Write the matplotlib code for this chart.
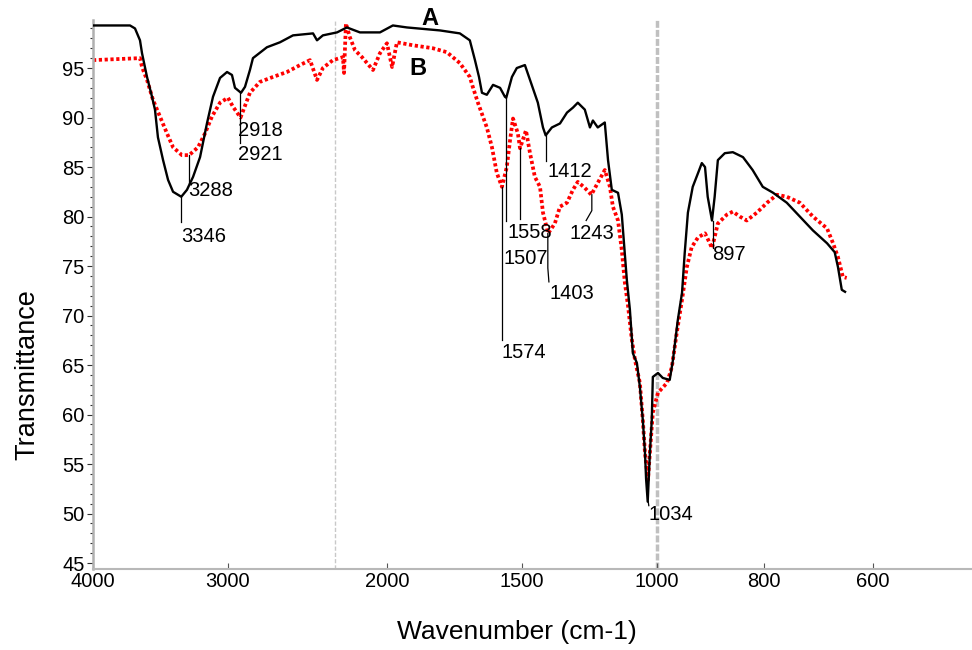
import numpy as np
import matplotlib
matplotlib.use("Agg")
import matplotlib.pyplot as plt

plt.rcParams['font.family'] = ['Liberation Sans', 'DejaVu Sans']

# spectrum A (black)
wn_a = [4000, 3726, 3689, 3652, 3637, 3600, 3563, 3541, 3519, 3481, 3444, 3407, 3346,
        3304, 3259, 3207, 3156, 3111, 3059, 3007, 2975, 2956, 2918, 2893, 2862, 2843,
        2755, 2673, 2591, 2465, 2440, 2403, 2314, 2252, 2170, 2044, 1978, 1926, 1804,
        1730, 1693, 1674, 1659, 1648, 1630, 1607, 1581, 1563, 1558, 1537, 1519, 1489,
        1470, 1441, 1422, 1412, 1389, 1359, 1333, 1311, 1293, 1267, 1248, 1237, 1219,
        1193, 1181, 1167, 1144, 1130, 1119, 1111, 1100, 1089, 1074, 1063, 1052, 1044,
        1040, 1034, 1026, 1019, 1015, 998, 989, 976, 970, 961, 953, 948, 942, 933, 923,
        916, 910, 905, 897, 892, 886, 873, 858, 839, 821, 802, 783, 758, 734, 710, 684,
        670, 664, 657, 651]
t_a = [99.3, 99.3, 99.0, 97.8, 96.5, 94.1, 92.1, 90.8, 88.0, 85.7, 83.7, 82.5, 82.0,
       82.7, 84.0, 86.0, 89.4, 92.1, 94.0, 94.6, 94.3, 93.0, 92.5, 93.1, 94.8, 96.0,
       97.1, 97.6, 98.3, 98.5, 97.8, 98.3, 98.6, 99.1, 98.6, 98.6, 99.3, 99.1, 98.8,
       98.5, 97.8, 95.8, 94.1, 92.5, 92.3, 93.3, 93.0, 92.1, 92.0, 94.1, 95.0, 95.3,
       93.8, 91.5, 89.0, 88.2, 89.0, 89.4, 90.5, 91.0, 91.5, 90.8, 89.0, 89.7, 89.0,
       89.5, 85.7, 82.7, 82.4, 80.2, 76.3, 73.5, 70.6, 66.2, 65.2, 62.8, 59.4, 56.1,
       53.5, 51.2, 56.1, 59.4, 63.8, 64.2, 63.7, 63.5, 65.5, 69.5, 72.3, 76.3, 80.4,
       83.0, 84.4, 85.4, 85.0, 82.0, 79.6, 82.0, 85.7, 86.4, 86.5, 86.0, 84.7, 83.0,
       82.4, 81.4, 80.0, 78.6, 77.3, 76.4, 74.9, 72.6, 72.4]

# spectrum B (red)
wn_b = [4000, 3652, 3637, 3600, 3556, 3504, 3452, 3407, 3341, 3288, 3222, 3170, 3119,
        3059, 3000, 2969, 2921, 2895, 2862, 2799, 2717, 2629, 2547, 2484, 2440, 2403,
        2340, 2277, 2270, 2258, 2233, 2201, 2157, 2088, 2044, 2000, 1981, 1963, 1904,
        1830, 1778, 1730, 1693, 1682, 1663, 1630, 1611, 1593, 1574, 1556, 1544, 1533,
        1515, 1507, 1485, 1470, 1452, 1433, 1422, 1403, 1378, 1359, 1333, 1311, 1293,
        1267, 1243, 1219, 1193, 1174, 1163, 1144, 1130, 1119, 1107, 1093, 1081, 1063,
        1052, 1044, 1033, 1026, 1015, 998, 981, 972, 963, 953, 944, 935, 923, 910, 901,
        897, 886, 869, 858, 845, 832, 813, 794, 776, 758, 734, 710, 684, 673, 664, 655,
        648]
t_b = [95.8, 96.0, 95.1, 93.8, 91.8, 90.1, 88.4, 87.0, 86.2, 86.2, 87.0, 88.4, 90.1,
       91.5, 92.0, 91.1, 90.0, 91.1, 92.5, 93.6, 94.1, 94.6, 95.3, 95.8, 93.8, 95.0,
       95.8, 96.1, 94.5, 99.5, 98.1, 96.8, 96.1, 94.8, 96.5, 97.5, 95.1, 97.6, 97.3,
       97.0, 96.6, 95.5, 94.1, 93.1, 91.5, 89.0, 87.0, 84.4, 83.0, 85.0, 87.7, 89.9,
       88.4, 86.9, 88.7, 86.4, 84.0, 83.0, 80.4, 78.3, 79.3, 81.0, 81.4, 82.7, 83.5,
       82.9, 82.2, 83.4, 84.7, 83.0, 81.0, 79.6, 76.6, 73.4, 71.0, 67.6, 65.5, 63.2,
       59.4, 56.1, 53.4, 56.1, 60.2, 62.2, 63.2, 64.8, 68.2, 71.6, 74.9, 76.9, 77.9,
       78.3, 77.3, 76.8, 79.3, 80.2, 80.5, 80.0, 79.6, 80.4, 81.4, 82.2, 82.0, 81.4,
       80.0, 78.8, 77.3, 75.9, 73.9, 73.8]

x_ticks = [4000, 3000, 2000, 1500, 1000, 800, 600]
y_ticks = [45, 50, 55, 60, 65, 70, 75, 80, 85, 90, 95]

# instrument-style wavenumber axis: piecewise linear between breakpoints
brk_wn = [0, 400, 600, 800, 1000, 1500, 2000, 3000, 4000, 5000]
brk_u = [-1200, -982, -873, -764, -657, -522, -387, -228, -93, 42]


def fwd(w):
    return np.interp(w, brk_wn, brk_u)


def inv(u):
    return np.interp(u, brk_u, brk_wn)


fig = plt.figure(figsize=(9.72, 6.5), dpi=100)
ax = fig.add_axes([0.0957, 0.1246, 0.9043, 0.8446])
ax.set_xscale('function', functions=(fwd, inv))
ax.set_xlim(4000, 418)
ax.set_ylim(44.4, 99.85)

ax.axvline(2327, color='#c8c8c8', lw=1.0, ls=(0, (3, 1.5)), zorder=1)
ax.axvline(1000, color='#c0c0c0', lw=2.5, ls=(0, (2, 0.6)), zorder=1)

ax.plot(wn_b, t_b, color='#ff0000', lw=2.7, ls=(0, (0.85, 0.7)), zorder=2)
ax.plot(wn_a, t_a, color='black', lw=1.7, zorder=3)

# peak labels with leader lines
fs = 14.5
def peak(x, y0, y1, label, tx, ty):
    ax.plot([x, x], [y0, y1], color='black', lw=0.9, zorder=4)
    ax.text(tx, ty, label, fontsize=fs, ha='left', va='center', zorder=5)

peak(3346, 82.0, 79.4, '3346', 3348, 78.0)
peak(3288, 86.2, 83.4, '3288', 3296, 82.6)
peak(2925, 92.5, 87.4, '2918', 2940, 88.7)
ax.text(2940, 86.3, '2921', fontsize=fs, ha='left', va='center')
peak(1574, 83.0, 67.5, '1574', 1574, 66.3)
peak(1558, 92.0, 79.6, '1558', 1553, 78.4)
ax.plot([1507, 1507], [86.9, 79.8], color='black', lw=0.9)
ax.text(1570, 75.8, '1507', fontsize=fs, ha='left', va='center')
peak(1412, 88.2, 85.6, '1412', 1404, 84.5)
ax.plot([1404, 1404, 1400], [78.3, 74.8, 73.4], color='black', lw=0.9)
ax.text(1398, 72.2, '1403', fontsize=fs, ha='left', va='center')
ax.plot([1241, 1241, 1262], [82.2, 80.6, 79.6], color='black', lw=0.9)
ax.text(1322, 78.3, '1243', fontsize=fs, ha='left', va='center')
ax.plot([1032, 1030], [51.2, 50.8], color='black', lw=0.9)
ax.text(1030, 49.9, '1034', fontsize=fs, ha='left', va='center')
ax.plot([895, 895], [79.6, 76.8], color='black', lw=0.9)
ax.text(897, 76.2, '897', fontsize=fs, ha='left', va='center')

ax.text(1841, 100.0, 'A', fontsize=17, fontweight='bold', ha='center', va='center', clip_on=False)
ax.text(1885, 95.0, 'B', fontsize=17, fontweight='bold', ha='center', va='center')

ax.set_xticks(x_ticks)
ax.set_xticklabels([str(v) for v in x_ticks])
ax.xaxis.set_minor_locator(matplotlib.ticker.NullLocator())
ax.set_yticks(y_ticks)
ax.set_yticks(np.arange(45, 100, 1), minor=True)
ax.tick_params(axis='x', direction='in', length=4, width=0.8, color='#555555',
               labelsize=14.5, pad=2)
ax.tick_params(axis='y', which='major', direction='out', length=4, width=0.8,
               color='#333333', labelsize=14.5, pad=2)
ax.tick_params(axis='y', which='minor', direction='out', length=2.5, width=0.8,
               color='#333333')

for s in ['top', 'right']:
    ax.spines[s].set_visible(False)
ax.spines['left'].set_color('#b0b0b0')
ax.spines['left'].set_linewidth(1.8)
ax.spines['bottom'].set_color('#b8b8b8')
ax.spines['bottom'].set_linewidth(1.5)

ax.set_xlabel('Wavenumber (cm-1)', fontsize=19)
ax.set_ylabel('Transmittance', fontsize=19.5)
ax.xaxis.set_label_coords(0.482, -0.093)
ax.yaxis.set_label_coords(-0.060, 0.355)

fig.savefig('out.png', dpi=100)
